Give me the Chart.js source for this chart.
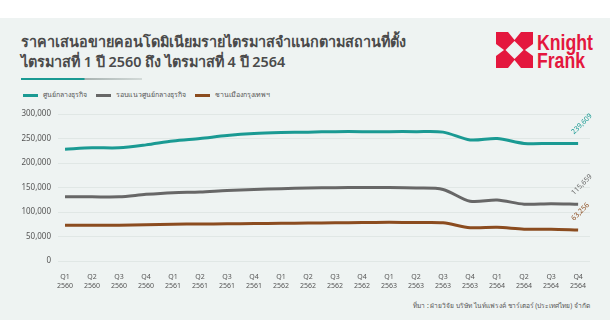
<!DOCTYPE html>
<html>
<head>
<meta charset="utf-8">
<script src="https://cdn.jsdelivr.net/npm/chart.js@4.4.1/dist/chart.umd.min.js"></script>
<style>
  html, body { margin: 0; padding: 0; background: #fff; }
  body { width: 610px; height: 336px; position: relative; overflow: hidden; font-family: "Noto Sans", sans-serif; }
  #panel { position: absolute; left: 0; top: 18px; width: 610px; height: 302px; background: #eef3f2; }
  #title { position: absolute; left: 21px; top: 32px; font-size: 14.4px; line-height: 20px; font-weight: 600; color: #4a4a4a; white-space: nowrap; }
  #rule { position: absolute; left: 21px; top: 78px; width: 121px; height: 1.5px;
          background: linear-gradient(to right, #1a9a93 0, #1a9a93 52%, #a9b4b2 53%, #d3dad8 100%); }
  #legend { position: absolute; left: 23px; top: 89px; font-size: 7px; color: #555; white-space: nowrap; }
  #legend span.item { display: inline-block; margin-right: 9px; }
  #legend i { display: inline-block; width: 15px; height: 3px; vertical-align: middle; margin-right: 5px; }
  #source { position: absolute; right: 20px; top: 300px; font-size: 6.6px; color: #555; white-space: nowrap; }
  #logo { position: absolute; left: 496px; top: 32px; }
  #chart { position: absolute; left: 0; top: 100px; }
</style>
</head>
<body>
<div id="panel"></div>
<div id="title">ราคาเสนอขายคอนโดมิเนียมรายไตรมาสจำแนกตามสถานที่ตั้ง<br>ไตรมาสที่ 1 ปี 2560 ถึง ไตรมาสที่ 4 ปี 2564</div>
<div id="rule"></div>
<div id="legend"></div>
<svg id="logo" width="104" height="38" viewBox="0 0 104 38">
  <rect x="0" y="0" width="37" height="36" fill="#e4173e"/>
  <polygon points="12,0 25,0 18.5,8" fill="#eef3f2"/>
  <polygon points="12,36 25,36 18.5,28" fill="#eef3f2"/>
  <polygon points="0,12 0,24 8,18" fill="#eef3f2"/>
  <polygon points="37,12 37,24 29,18" fill="#eef3f2"/>
  <polygon points="18.5,9 27.5,18 18.5,27 9.5,18" fill="#eef3f2"/>
  <text x="41" y="17.5" textLength="56" lengthAdjust="spacingAndGlyphs" font-family="Liberation Sans, sans-serif" font-weight="bold" font-size="22" fill="#e4173e">Knight</text>
  <text x="41" y="35.5" textLength="48" lengthAdjust="spacingAndGlyphs" font-family="Liberation Sans, sans-serif" font-weight="bold" font-size="22" fill="#e4173e">Frank</text>
</svg>
<canvas id="chart" width="610" height="200"></canvas>
<div id="source">ที่มา : ฝ่ายวิจัย บริษัท ไนท์แฟรงค์ ชาร์เตอร์ (ประเทศไทย) จำกัด</div>

<script>
// quarter ticks, two lines each
const periods = [
  ['Q1', '2560'], ['Q2', '2560'], ['Q3', '2560'], ['Q4', '2560'],
  ['Q1', '2561'], ['Q2', '2561'], ['Q3', '2561'], ['Q4', '2561'],
  ['Q1', '2562'], ['Q2', '2562'], ['Q3', '2562'], ['Q4', '2562'],
  ['Q1', '2563'], ['Q2', '2563'], ['Q3', '2563'], ['Q4', '2563'],
  ['Q1', '2564'], ['Q2', '2564'], ['Q3', '2564'], ['Q4', '2564']
];
const seriesNames = ['ศูนย์กลางธุรกิจ', 'รอบแนวศูนย์กลางธุรกิจ', 'ชานเมืองกรุงเทพฯ'];
const seriesColors = ['#1a9a93', '#676767', '#8b4c1f'];

// baht per sq.m.
const cbd = [228000, 231000, 231000, 237000, 245000, 250000, 256000, 260000, 262000, 263000,
             264000, 264000, 264000, 264000, 263000, 247000, 250000, 240000, 240000, 239609];
const cbdFringe = [131000, 131000, 131000, 136000, 139500, 141000, 144000, 146000, 147600, 149000,
                   149600, 150000, 150000, 149000, 146000, 122000, 124500, 116000, 117000, 115659];
const suburb = [72800, 73000, 73200, 74000, 75000, 75500, 76000, 76500, 77000, 77500,
                78000, 78500, 79000, 78500, 78000, 68000, 68700, 65000, 65000, 63256];

const yTicks = [0, 50000, 100000, 150000, 200000, 250000, 300000];

// html legend
const legend = document.getElementById('legend');
seriesNames.forEach((name, i) => {
  legend.innerHTML += '<span class="item"><i style="background:' + seriesColors[i] + '"></i>' + name + '</span>';
});

const toPoints = arr => arr.map((v, i) => ({ x: i, y: v }));

// value label at the end of each line, tilted up
const endLabels = {
  id: 'endLabels',
  afterDatasetsDraw(chart) {
    const ctx = chart.ctx;
    chart.data.datasets.forEach((ds, i) => {
      const meta = chart.getDatasetMeta(i);
      const pt = meta.data[meta.data.length - 1];
      const v = ds.data[ds.data.length - 1].y;
      ctx.save();
      ctx.translate(pt.x - 3, pt.y - 8);
      ctx.rotate(-Math.PI / 4);
      ctx.font = '7px "Noto Sans", sans-serif';
      ctx.fillStyle = ds.borderColor;
      ctx.textAlign = 'left';
      ctx.textBaseline = 'bottom';
      ctx.fillText(v.toLocaleString('en-US'), 0, 0);
      ctx.restore();
    });
  }
};

const ctx = document.getElementById('chart').getContext('2d');
new Chart(ctx, {
  type: 'line',
  data: {
    datasets: [
      { label: seriesNames[0], data: toPoints(cbd), borderColor: seriesColors[0] },
      { label: seriesNames[1], data: toPoints(cbdFringe), borderColor: seriesColors[1] },
      { label: seriesNames[2], data: toPoints(suburb), borderColor: seriesColors[2] }
    ]
  },
  options: {
    responsive: false,
    animation: false,
    layout: { padding: { top: 14, right: 20, left: 0, bottom: 0 } },
    elements: {
      line: { borderWidth: 3, tension: 0.3, fill: false },
      point: { radius: 0 }
    },
    plugins: { legend: { display: false }, tooltip: { enabled: false } },
    scales: {
      x: {
        type: 'linear',
        min: -0.26,
        max: 19.44,
        afterBuildTicks: s => { s.ticks = periods.map((p, i) => ({ value: i })); },
        afterFit: s => { s.height = 39; },
        grid: { display: false },
        border: { display: false },
        ticks: {
          autoSkip: false,
          maxRotation: 0,
          padding: 4,
          color: '#555',
          font: { size: 7, family: '"Noto Sans", sans-serif' },
          callback: v => periods[v]
        }
      },
      y: {
        min: 0,
        max: 300000,
        afterBuildTicks: s => { s.ticks = yTicks.map(v => ({ value: v })); },
        afterFit: s => { s.width = 58; },
        grid: { color: '#e0e7e5', drawTicks: false, lineWidth: 1 },
        border: { display: false },
        ticks: {
          padding: 7,
          color: '#555',
          font: { size: 8, family: '"Noto Sans", sans-serif' },
          callback: v => v.toLocaleString('en-US')
        }
      }
    }
  },
  plugins: [endLabels]
});
</script>
</body>
</html>
